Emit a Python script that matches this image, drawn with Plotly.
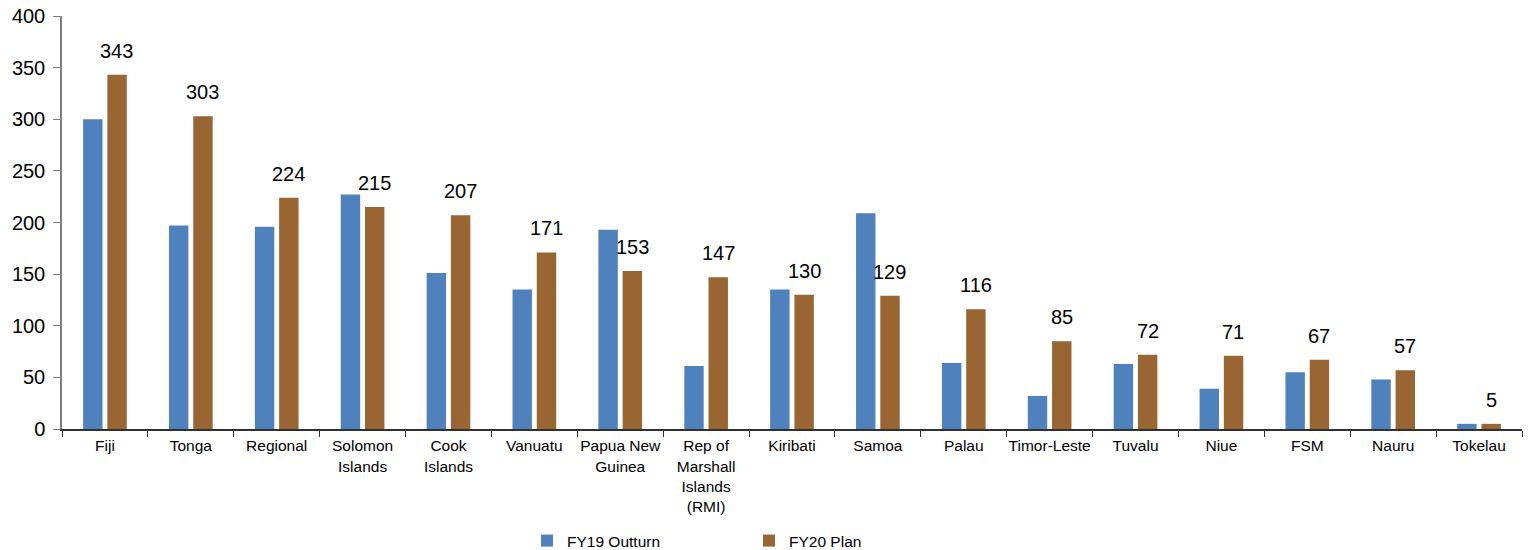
import plotly.graph_objects as go

categories = ["Fiji", "Tonga", "Regional", "Solomon<br>Islands", "Cook<br>Islands", "Vanuatu",
              "Papua New<br>Guinea", "Rep of<br>Marshall<br>Islands<br>(RMI)", "Kiribati", "Samoa",
              "Palau", "Timor-Leste", "Tuvalu", "Niue", "FSM", "Nauru", "Tokelau"]
fy19_outturn = [300, 197, 196, 227, 151, 135, 193, 61, 135, 209, 64, 32, 63, 39, 55, 48, 5]
fy20_plan = [343, 303, 224, 215, 207, 171, 153, 147, 130, 129, 116, 85, 72, 71, 67, 57, 5]

FONT = "Arial, Liberation Sans, sans-serif"
BLUE = "#4F81BD"
BROWN = "#996633"

fig = go.Figure()
fig.add_trace(go.Bar(name="FY19 Outturn", x=categories, y=fy19_outturn,
                     marker=dict(color=BLUE, line=dict(width=0))))
fig.add_trace(go.Bar(name="FY20 Plan", x=categories, y=fy20_plan,
                     marker=dict(color=BROWN, line=dict(width=0))))

for c, v in zip(categories, fy20_plan):
    fig.add_annotation(x=c, y=v, text=str(v), showarrow=False, yanchor="bottom",
                       xshift=12, yshift=11, font=dict(family=FONT, size=20, color="#000000"))

fig.update_layout(
    width=1529, height=550,
    margin=dict(l=62, r=7, t=16, b=121, autoexpand=False),
    paper_bgcolor="white", plot_bgcolor="white",
    barmode="group", bargap=0.435, bargroupgap=0.2,
    font=dict(family=FONT, color="#000000"),
    showlegend=True,
    legend=dict(orientation="h", x=0.3185, xanchor="left", y=-0.23, yanchor="top",
                entrywidth=177, entrywidthmode="pixels",
                font=dict(family=FONT, size=15.5), itemwidth=30, traceorder="normal"),
)
fig.update_xaxes(showline=True, linecolor="#303030", linewidth=1.5, ticks="outside",
                 tickson="boundaries", ticklen=6, tickcolor="#303030", automargin=False,
                 tickangle=0,
                 tickfont=dict(family=FONT, size=15.5), showgrid=False, ticklabelstandoff=2)
fig.update_yaxes(range=[0, 400], dtick=50, showline=True, linecolor="#808080", linewidth=1.5,
                 ticks="outside", ticklen=7, tickcolor="#808080", showgrid=False, zeroline=False,
                 automargin=False, ticklabelstandoff=4,
                 tickfont=dict(family=FONT, size=20))

fig.write_html("out.html")
